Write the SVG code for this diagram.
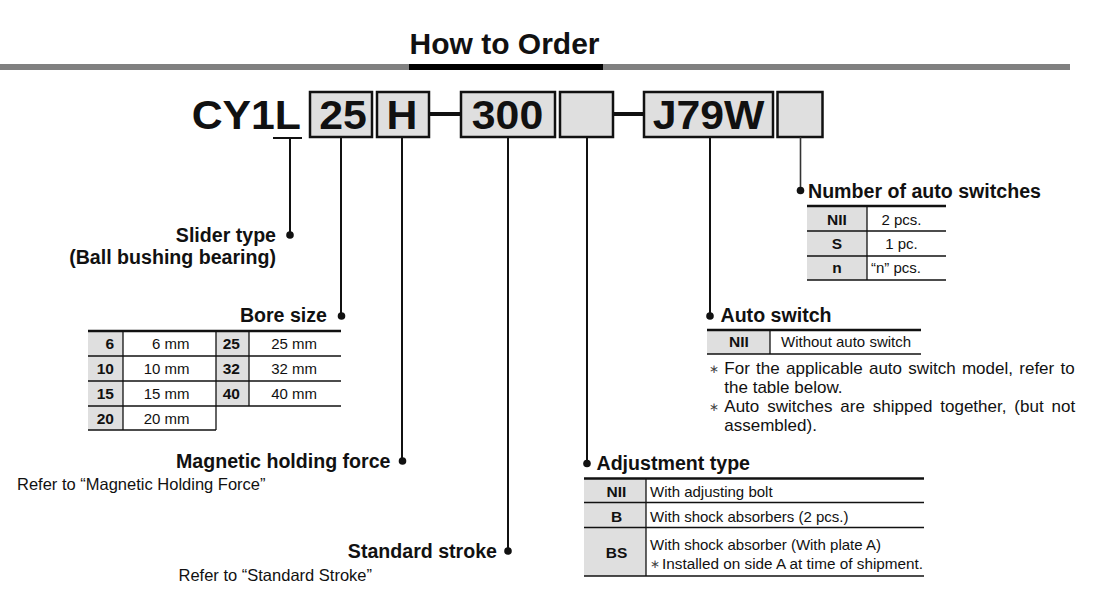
<svg xmlns="http://www.w3.org/2000/svg" width="1104" height="602" viewBox="0 0 1104 602">
<style>
text{font-family:"Liberation Sans",Arial,sans-serif;fill:#111}
.title{font-size:30px;font-weight:bold}
.code{font-size:40px;font-weight:bold}
.lbl{font-size:19.6px;font-weight:bold}
.cell{font-size:15px}
.key{font-size:15.5px;font-weight:bold}
.ref{font-size:16.5px}
.note{font-size:17px}
.ast{font-size:12px;fill:#444}
.box{fill:#dfdfdf;stroke:#111;stroke-width:2.5}
.gray{fill:#dfdfdf}
.thick{stroke:#111;stroke-width:2.5}
.thin{stroke:#111;stroke-width:1.3}
.conn{stroke:#111;stroke-width:2;fill:none}
.dot{fill:#111}
</style>
<rect width="1104" height="602" fill="#fff"/>
<g id="header">
<rect x="0" y="64" width="1070" height="6" fill="#808080"/>
<rect x="409" y="64" width="194" height="6" fill="#000"/>
<text class="title" x="504.5" y="54" text-anchor="middle">How to Order</text>
</g>
<g id="code">
<text class="code" transform="translate(301,128.5) scale(1.07 1)" text-anchor="end">CY1L</text>
<line class="conn" x1="273" y1="138" x2="302" y2="138"/>
<rect class="box" x="310" y="92" width="62" height="45"/>
<text class="code" transform="translate(343,128.5) scale(1.07 1)" text-anchor="middle">25</text>
<rect class="box" x="377" y="92" width="52" height="45"/>
<text class="code" transform="translate(402,128.5) scale(1.07 1)" text-anchor="middle">H</text>
<line x1="429" y1="114" x2="461" y2="114" stroke="#111" stroke-width="4"/>
<rect class="box" x="461" y="92" width="94" height="45"/>
<text class="code" transform="translate(507.5,128.5) scale(1.07 1)" text-anchor="middle">300</text>
<rect class="box" x="560" y="92" width="53" height="45"/>
<line x1="613" y1="114" x2="644" y2="114" stroke="#111" stroke-width="4"/>
<rect class="box" x="644" y="92" width="129" height="45"/>
<text class="code" transform="translate(708.5,128.5) scale(1.07 1)" text-anchor="middle">J79W</text>
<rect class="box" x="777.5" y="92" width="45" height="45"/>
</g>
<g id="connectors">
<path class="conn" d="M290,138V235M341,137V316M402,137V461M508,137V551M587,137V463.5M710,137V316"/>
<path d="M800.5,137V190" stroke="#333" stroke-width="1.6" fill="none"/>
<circle class="dot" cx="290" cy="235" r="3.8"/>
<circle class="dot" cx="341.5" cy="316" r="3.8"/>
<circle class="dot" cx="402.5" cy="461" r="3.8"/>
<circle class="dot" cx="508" cy="551" r="3.8"/>
<circle class="dot" cx="587" cy="463.5" r="3.8"/>
<circle class="dot" cx="710" cy="316" r="3.8"/>
<circle class="dot" cx="800.5" cy="190.5" r="3.8"/>
</g>
<g id="slider-type">
<text class="lbl" x="276" y="241.5" text-anchor="end">Slider type</text>
<text class="lbl" x="276" y="264" text-anchor="end">(Ball bushing bearing)</text>
</g>
<g id="bore-size">
<text class="lbl" x="327" y="322" text-anchor="end">Bore size</text>
<rect class="gray" x="88" y="331" width="35" height="99"/>
<rect class="gray" x="216" y="331" width="33" height="75"/>
<line class="thick" x1="88" y1="331" x2="341" y2="331"/>
<line class="thin" x1="88" y1="356" x2="341" y2="356"/>
<line class="thin" x1="88" y1="381" x2="341" y2="381"/>
<line class="thin" x1="88" y1="406" x2="341" y2="406"/>
<line class="thin" x1="88" y1="430" x2="216" y2="430"/>
<line class="thin" x1="123" y1="331" x2="123" y2="430"/>
<line class="thin" x1="216" y1="331" x2="216" y2="430"/>
<line class="thin" x1="249" y1="331" x2="249" y2="406"/>
<g text-anchor="end">
<text class="key" x="114" y="349">6</text>
<text class="key" x="114" y="374">10</text>
<text class="key" x="114" y="399">15</text>
<text class="key" x="114" y="423.5">20</text>
<text class="key" x="240" y="349">25</text>
<text class="key" x="240" y="374">32</text>
<text class="key" x="240" y="399">40</text>
</g>
<g text-anchor="end">
<text class="cell" x="189.5" y="349">6 mm</text>
<text class="cell" x="189.5" y="374">10 mm</text>
<text class="cell" x="189.5" y="399">15 mm</text>
<text class="cell" x="189.5" y="423.5">20 mm</text>
<text class="cell" x="317" y="349">25 mm</text>
<text class="cell" x="317" y="374">32 mm</text>
<text class="cell" x="317" y="399">40 mm</text>
</g>
</g>
<g id="magnetic-holding-force">
<text class="lbl" x="390.5" y="467.5" text-anchor="end">Magnetic holding force</text>
<text class="ref" x="17" y="489.5">Refer to “Magnetic Holding Force”</text>
</g>
<g id="standard-stroke">
<text class="lbl" x="497" y="558" text-anchor="end">Standard stroke</text>
<text class="ref" x="178.5" y="581">Refer to “Standard Stroke”</text>
</g>
<g id="adjustment-type">
<text class="lbl" x="596.5" y="469.5">Adjustment type</text>
<rect class="gray" x="584" y="478.5" width="62" height="97.5"/>
<line class="thick" x1="584" y1="478.5" x2="924" y2="478.5"/>
<line class="thin" x1="584" y1="502.5" x2="924" y2="502.5"/>
<line class="thin" x1="584" y1="527.5" x2="924" y2="527.5"/>
<line class="thin" x1="584" y1="576" x2="924" y2="576"/>
<line class="thin" x1="646" y1="478.5" x2="646" y2="576"/>
<text class="key" x="616.5" y="497" text-anchor="middle">NII</text>
<text class="key" x="616.5" y="522" text-anchor="middle">B</text>
<text class="key" x="616.5" y="557.5" text-anchor="middle">BS</text>
<text class="cell" x="650" y="497">With adjusting bolt</text>
<text class="cell" x="650" y="522">With shock absorbers (2 pcs.)</text>
<text class="cell" x="650" y="550">With shock absorber (With plate A)</text>
<text class="ast" x="650" y="568">∗</text>
<text class="cell" x="662" y="569" style="font-size:15.3px">Installed on side A at time of shipment.</text>
</g>
<g id="auto-switch">
<text class="lbl" x="720.5" y="321.5">Auto switch</text>
<rect class="gray" x="707" y="330" width="63" height="24"/>
<line class="thick" x1="707" y1="330" x2="921" y2="330"/>
<line class="thin" x1="707" y1="354" x2="921" y2="354"/>
<line class="thin" x1="770" y1="330" x2="770" y2="354"/>
<text class="key" x="739" y="347" text-anchor="middle">NII</text>
<text class="cell" x="781" y="347">Without auto switch</text>
<text class="ast" x="709" y="373">∗</text>
<text class="note" x="724.3" y="374" word-spacing="1.6">For the applicable auto switch model, refer to</text>
<text class="note" x="724.3" y="393">the table below.</text>
<text class="ast" x="709" y="411">∗</text>
<text class="note" x="724.3" y="412" word-spacing="3.2">Auto switches are shipped together, (but not</text>
<text class="note" x="724.3" y="430.5">assembled).</text>
</g>
<g id="number-of-auto-switches">
<text class="lbl" x="808" y="197.5">Number of auto switches</text>
<rect class="gray" x="807" y="206" width="60" height="74"/>
<line class="thick" x1="807" y1="206" x2="946" y2="206"/>
<line class="thin" x1="807" y1="231" x2="946" y2="231"/>
<line class="thin" x1="807" y1="256" x2="946" y2="256"/>
<line class="thin" x1="807" y1="280" x2="946" y2="280"/>
<line class="thin" x1="867" y1="206" x2="867" y2="280"/>
<text class="key" x="837" y="224.5" text-anchor="middle">NII</text>
<text class="key" x="837" y="248.5" text-anchor="middle">S</text>
<text class="key" x="837" y="272.5" text-anchor="middle">n</text>
<text class="cell" x="901.5" y="224.5" text-anchor="middle">2 pcs.</text>
<text class="cell" x="901.5" y="248.5" text-anchor="middle">1 pc.</text>
<text class="cell" x="896" y="272.5" text-anchor="middle">“n” pcs.</text>
</g>
</svg>
